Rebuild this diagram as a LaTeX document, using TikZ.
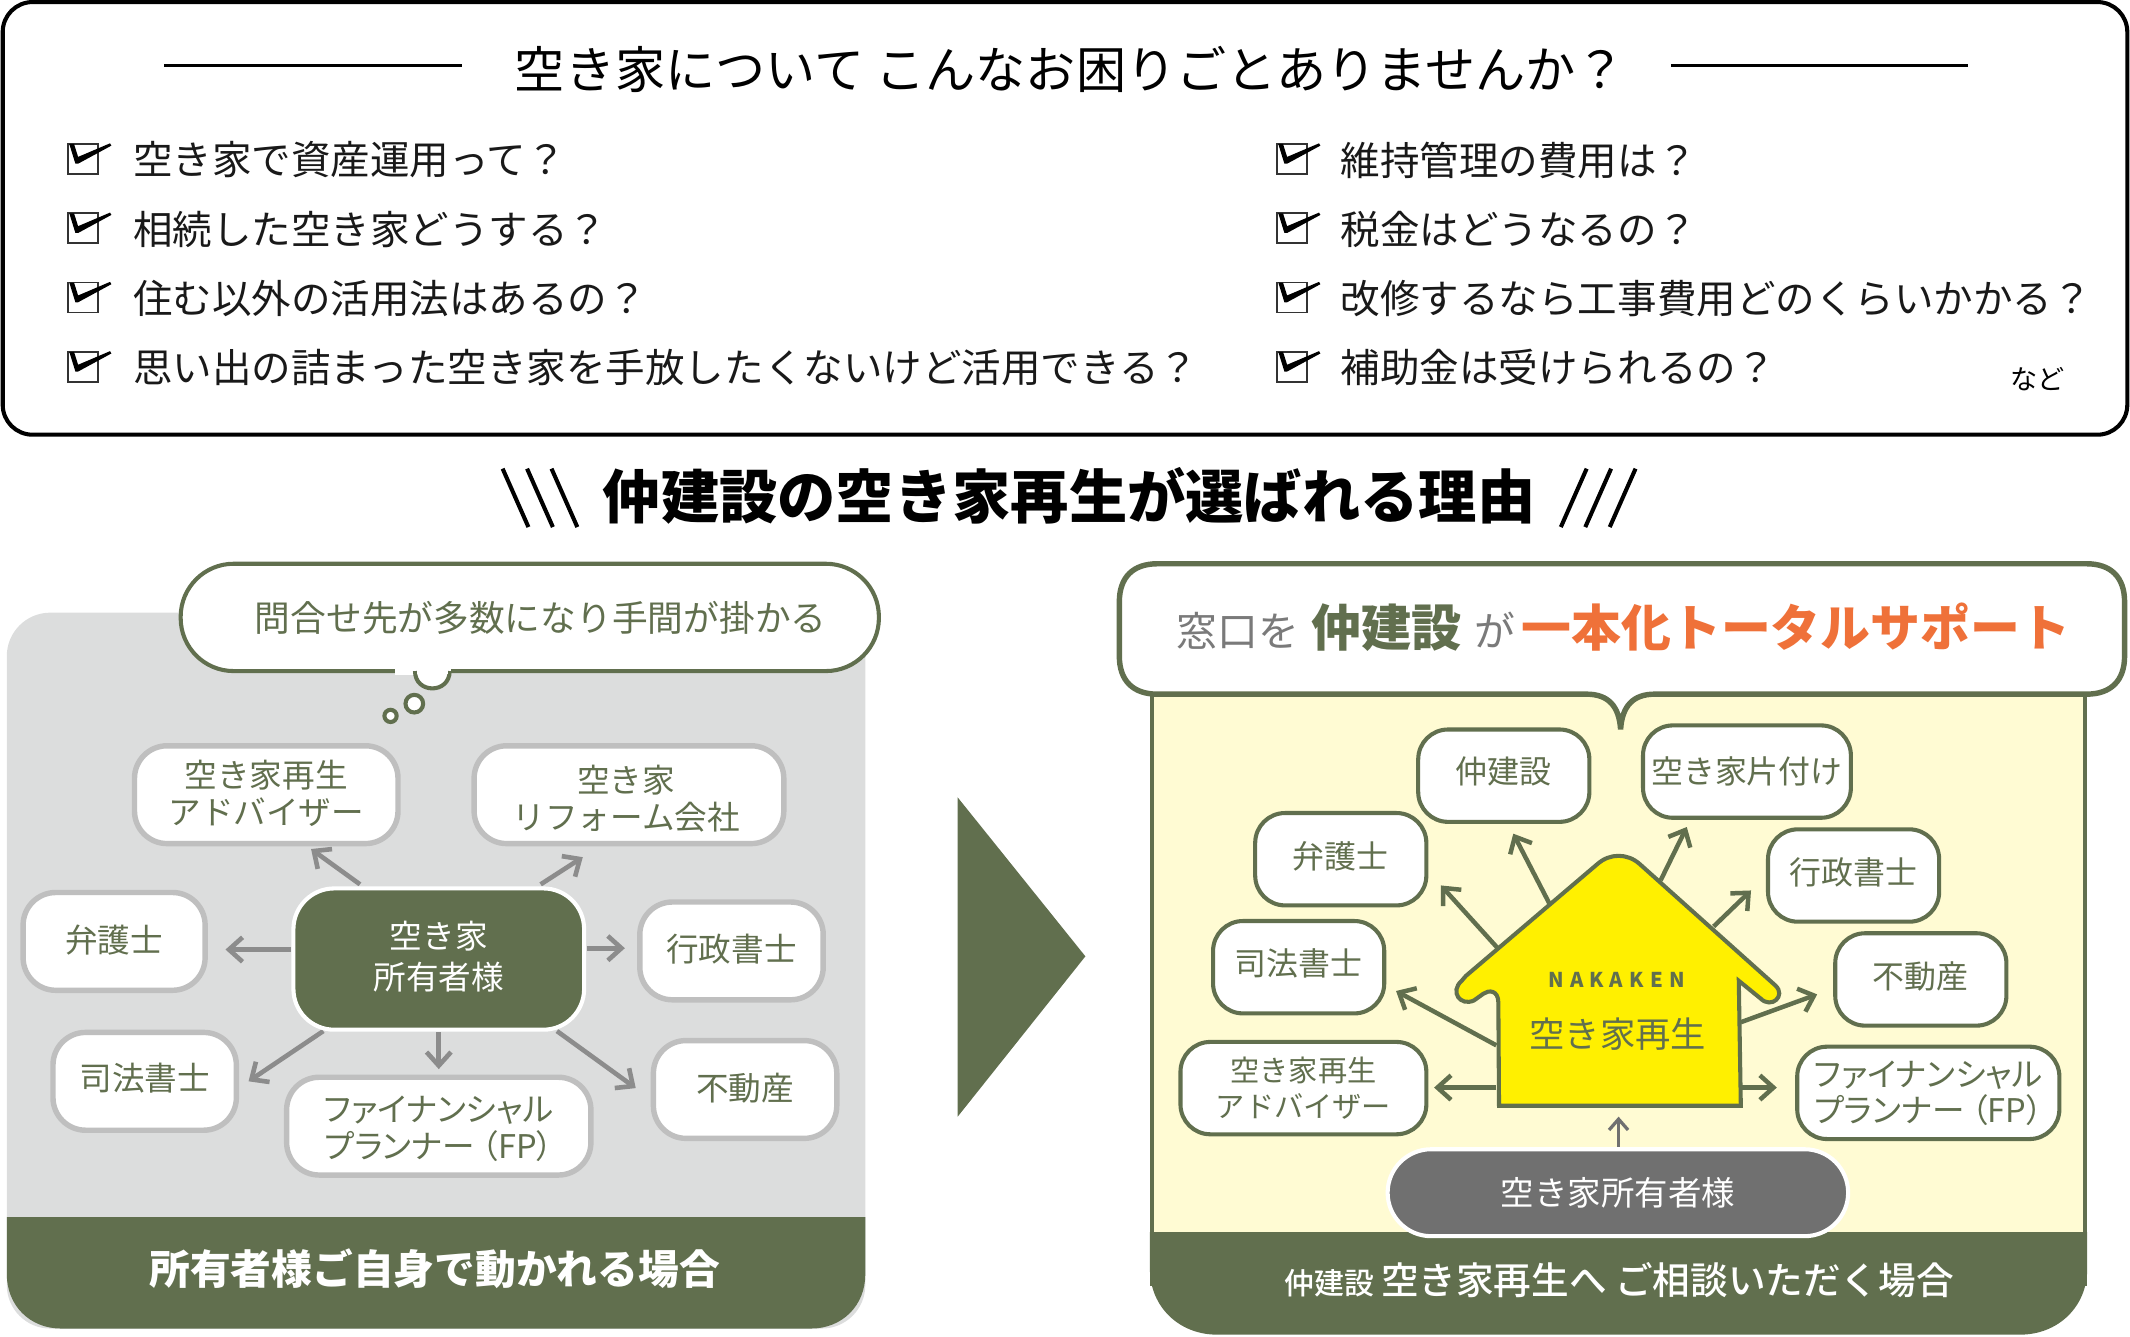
\documentclass[tikz,border=0pt]{standalone}
\usepackage{fontspec}
\usetikzlibrary{calc,arrows.meta}
\setmainfont{Noto Sans CJK JP}
\newfontfamily\nakafont[LetterSpace=30]{Noto Sans CJK JP}
\newfontfamily\paltfont[RawFeature=+palt]{Noto Sans CJK JP}
\newfontfamily\medfont{Noto Sans CJK JP Medium}
\definecolor{grn}{HTML}{616F4E}
\definecolor{panelgray}{HTML}{DCDDDD}
\definecolor{boxgray}{HTML}{BFBFBF}
\definecolor{arrgray}{HTML}{8C8C8C}
\definecolor{cream}{HTML}{FFFBD3}
\definecolor{orng}{HTML}{EF7139}
\definecolor{yel}{HTML}{FFF000}
\definecolor{pill}{HTML}{707070}
\definecolor{graytxt}{HTML}{7A7A7A}
\newcommand{\fs}[1]{\fontsize{#1}{#1}\selectfont}
\newcommand{\dn}[2]{\raisebox{-#1pt}[\height][\depth]{#2}}
\tikzset{
  x=1pt,y=-1pt,
  txt/.style={inner sep=0pt,outer sep=0pt,align=center},
  qtext/.style={txt,anchor=west,font=\fs{29.1},text=black!90},
  lbox/.style={draw=boxgray,line width=4pt,fill=white,rounded corners=24pt,align=center,inner sep=0pt,text=grn,font=\fontsize{24}{27}\selectfont},
  rbox/.style={draw=grn,line width=3pt,fill=white,rounded corners=22pt,align=center,inner sep=0pt,text=grn,font=\fontsize{23.5}{26.5}\selectfont},
  larr/.style={draw=arrgray,line width=3.4pt,-{Straight Barb[length=10pt,width=18pt,line width=3.4pt]}},
  rarr/.style={draw=grn,line width=3.3pt,-{Straight Barb[length=10pt,width=18pt,line width=3.3pt]}},
  oarr/.style={draw=pill,line width=2.4pt,-{Straight Barb[length=8pt,width=14pt,line width=2.4pt]}},
  checkbox/.style={draw=black!80,line width=1.3pt},
}
\begin{document}
\begin{tikzpicture}
\useasboundingbox (0,0) rectangle (1568,983.5);

% top panel
\draw[black,line width=3pt,rounded corners=22pt] (2,1.5) rectangle (1566,320);
\node[txt,font=\fs{36.9}] (title) at (788,51) {空き家について こんなお困りごとありませんか？};
\coordinate (tl1) at (121,48); \coordinate (tl2) at (340,48);
\coordinate (tr1) at (1230,48); \coordinate (tr2) at (1449,48);
\draw[line width=2pt] (tl1) -- (tl2);
\draw[line width=2pt] (tr1) -- (tr2);

\foreach \bx/\by in {50/106,50/157,50/208,50/259,940/106,940/157,940/208,940/259}{
  \draw[checkbox] (\bx,\by) rectangle (\bx+22,\by+22);
  \fill[black] (\bx+1,\by) -- (\bx+4.5,\by) -- (\bx+7.5,\by+9.5) -- (\bx+31,\by-0.5) -- (\bx+32,\by+1.2) -- (\bx+7.5,\by+14.5) -- (\bx+5.5,\by+14.5) -- cycle;
}
\node[qtext] (q1) at (98,117.8) {空き家で資産運用って？};
\node[qtext] (q2) at (98,168.8) {相続した空き家どうする？};
\node[qtext] (q3) at (98,219.8) {住む以外の活用法はあるの？};
\node[qtext] (q4) at (98,270.8) {思い出の詰まった空き家を手放したくないけど活用できる？};
\node[qtext] (q5) at (987,117.8) {維持管理の費用は？};
\node[qtext] (q6) at (987,168.8) {税金はどうなるの？};
\node[qtext] (q7) at (987,219.8) {改修するなら工事費用どのくらいかかる？};
\node[qtext] (q8) at (987,270.8) {補助金は受けられるの？};
\node[txt,font=\fs{20}] (nado) at (1500,279) {など};

% heading
\node[txt,font=\bfseries\fs{42.9}] (head) at (787,365) {仲建設の空き家再生が選ばれる理由};
\foreach \sx in {370,388,406}{\draw[line width=3pt] (\sx,345) -- (\sx+19,388);}
\foreach \sx in {1149,1167,1185}{\draw[line width=3pt] (\sx,388) -- (\sx+19,345);}

% left panel
\fill[panelgray,rounded corners=32pt] (5,451) rectangle (637,978);
\fill[grn] (5,896) -- (5,938) .. controls (5,961) and (22,978) .. (45,978) -- (597,978) .. controls (620,978) and (637,961) .. (637,938) -- (637,896) -- cycle;
\node[txt,text=white,font=\bfseries\fs{30}] (lfoot) at (320,934) {所有者様ご自身で動かれる場合};

% thought bubble
\draw[grn,line width=3pt,fill=white,rounded corners=39pt] (133,415) rectangle (647,494);
\fill[white] (291,490) rectangle (332,497);
\draw[grn,line width=3pt,fill=white] (305.5,494) .. controls (305.5,511) and (331,511) .. (331,494);
\fill[white] (307,490) rectangle (329.5,496);
\draw[grn,line width=3pt,fill=white] (305,518) circle (6.5);
\draw[grn,line width=3pt,fill=white] (287.5,527) circle (4.5);
\node[txt,text=grn,font=\fs{26.3}] (bubbletext) at (398,455) {問合せ先が多数になり手間が掛かる};

% left nodes
\node[lbox,minimum width=194pt,minimum height=72pt] (ladv) at (196,585) {\dn{-1}{空き家再生}\\\dn{-1}{アドバイザー}};
\node[lbox,minimum width=228pt,minimum height=72pt] (lrf) at (463,585) {\dn{3}{空き家}\hspace*{4pt}\\\dn{3}{リフォーム会社}\hspace*{4pt}};
\node[lbox,minimum width=134pt,minimum height=72pt] (lben) at (84,693) {\dn{-1}{弁護士}};
\node[lbox,minimum width=135pt,minimum height=72pt] (lgyo) at (538.5,700) {\dn{-1}{行政書士}};
\node[lbox,minimum width=135pt,minimum height=72pt] (lshi) at (106.5,796) {\dn{-2}{司法書士}};
\node[lbox,minimum width=135pt,minimum height=72pt] (lfu) at (548.5,802) {\dn{-1}{不動産}};
\node[lbox,minimum width=224pt,minimum height=72pt] (lfp) at (323,829) {\dn{2}{\paltfont ファイナンシャル}\\\dn{2}{\paltfont プランナー\hspace{5pt}（FP）}};
\coordinate (lctrpos) at (323,706);
\draw[larr] ($(lctrpos)+(-58,-55)$) -- ($(ladv)+(33,40)$);
\draw[larr] ($(lctrpos)+(75,-55)$) -- ($(lrf)+(-34,46)$);
\draw[larr] ($(lctrpos)+(-109,-7)$) -- ($(lben)+(82,6)$);
\draw[larr] ($(lctrpos)+(109,-8)$) -- ($(lgyo)+(-78.5,-2)$);
\draw[larr] ($(lctrpos)+(-85,53)$) -- ($(lshi)+(76.5,0)$);
\draw[larr] ($(lctrpos)+(0,54)$) -- ($(lfp)+(0,-42)$);
\draw[larr] ($(lctrpos)+(87,53)$) -- ($(lfu)+(-80.5,-1)$);
\node[draw=white,line width=3pt,fill=grn,rounded corners=30pt,minimum width=214pt,minimum height=104pt,inner sep=0pt,align=center,text=white,font=\fontsize{24}{30}\selectfont] (lctr) at (lctrpos) {\dn{-2}{空き家}\\\dn{-2}{所有者様}};

% big triangle
\fill[grn] (705,587) -- (799,704) -- (705,822) -- cycle;

% right panel
\draw[grn,line width=3pt,fill=cream] (848,480) rectangle (1535,945);
\fill[grn] (846.5,907) -- (846.5,934) .. controls (846.5,962) and (868,982.5) .. (896,982.5) -- (1487,982.5) .. controls (1515,982.5) and (1536.5,962) .. (1536.5,934) -- (1536.5,907) -- cycle;
\node[txt,text=white,font=\medfont,anchor=base] (rfoot) at (1192,953) {\fs{22}仲建設\hspace{5pt}\fs{27.7}空き家再生へ ご相談いただく場合};

% banner with tail
\draw[grn,line width=4pt,fill=white,rounded corners=0pt]
  (852,415) -- (1536,415) .. controls (1554,415) and (1564,425) .. (1564,443)
  -- (1564,483) .. controls (1564,501) and (1554,511) .. (1536,511)
  -- (1218,511) .. controls (1202,511) and (1194,520) .. (1193,537)
  .. controls (1192,520) and (1184,511) .. (1168,511)
  -- (852,511) .. controls (834,511) and (824,501) .. (824,483)
  -- (824,443) .. controls (824,425) and (834,415) .. (852,415) -- cycle;
\node[txt,anchor=base] (bannertext) at (1195,476) {\textcolor{graytxt}{\fs{30}窓口を}\hspace{9pt}\textcolor{grn}{\bfseries\fs{37}仲建設}\hspace{9pt}\textcolor{graytxt}{\fs{30}が}\hspace{5pt}\textcolor{orng}{\bfseries\fs{36.7}一本化トータルサポート}};

% right nodes
\node[rbox,minimum width=126pt,minimum height=68pt] (rnaka) at (1107,571) {\dn{-3}{仲建設}};
\node[rbox,minimum width=153pt,minimum height=68pt] (rkata) at (1286,568) {空き家片付け};
\node[rbox,minimum width=126pt,minimum height=68pt] (rben) at (987,632.5) {\dn{-2}{弁護士}};
\node[rbox,minimum width=126pt,minimum height=68pt] (rgyo) at (1364.5,644.5) {\dn{-2}{行政書士}};
\node[rbox,minimum width=126pt,minimum height=68pt] (rshi) at (956,712) {\dn{-3}{司法書士}};
\node[rbox,minimum width=126pt,minimum height=68pt] (rfu) at (1414,721) {\dn{-2}{不動産}};
\node[rbox,minimum width=181pt,minimum height=68pt,font=\fontsize{21.5}{27}\selectfont] (radv) at (959.5,801) {空き家再生\\アドバイザー};
\node[rbox,minimum width=193pt,minimum height=68pt,font=\fontsize{24}{26.5}\selectfont] (rfp) at (1419.5,804.5) {\paltfont ファイナンシャル\\\paltfont プランナー\hspace{5pt}（FP）};
\node[draw=white,line width=3pt,fill=pill,rounded corners=32pt,minimum width=339pt,minimum height=64pt,inner sep=0pt,text=white,font=\fs{24.6}] (rown) at (1191,878) {空き家所有者様};

% house
\coordinate (rhouse) at (1191.5,760);
\draw[rarr] ($(rhouse)+(-51,-95)$) -- ($(rnaka)+(7,42.7)$);
\draw[rarr] ($(rhouse)+(31,-112)$) -- ($(rkata)+(-44.3,40.8)$);
\draw[rarr] ($(rhouse)+(-88.5,-61.5)$) -- ($(rben)+(73.7,19.3)$);
\draw[rarr] ($(rhouse)+(70,-78)$) -- ($(rgyo)+(-75.5,11)$);
\draw[rarr] ($(rhouse)+(-90,9.5)$) -- ($(rshi)+(71.7,17.5)$);
\draw[rarr] ($(rhouse)+(90,-7.5)$) -- ($(rfu)+(-76.3,11)$);
\draw[rarr] ($(rhouse)+(-90,40.6)$) -- ($(radv)+(96.2,-0.4)$);
\draw[rarr] ($(rhouse)+(90,40.6)$) -- ($(rfp)+(-111.5,-3.9)$);
\draw[oarr] ($(rown)+(0.5,-34)$) -- ($(rhouse)+(0,62)$);
\draw[grn,line width=3pt,fill=yel,line join=miter]
  (1103.5,814) -- (1103,738) .. controls (1103,729) and (1096,728.5) .. (1092,731.5)
  -- (1085,736.5) .. controls (1075,741) and (1067,730) .. (1076,722) -- (1079,718.5)
  -- (1176,636) .. controls (1185,628) and (1198,628) .. (1207,636)
  -- (1307,725.5) .. controls (1315,733) and (1304,743) .. (1296,735)
  -- (1280,722) -- (1281.5,814) -- cycle;
\node[txt,text=grn,font=\nakafont\bfseries\fs{15}] (nakaken) at (1190,721) {NAKAKEN};
\node[txt,text=grn,font=\fs{26}] (rhname) at (1191,761) {空き家再生};
\end{tikzpicture}
\end{document}
